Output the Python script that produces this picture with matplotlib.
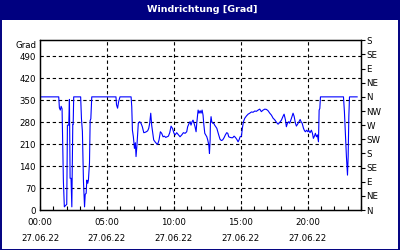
import matplotlib
matplotlib.use("Agg")
import matplotlib.pyplot as plt
from matplotlib.patches import Rectangle
from matplotlib.ticker import MultipleLocator

plt.rcParams['font.family'] = ['DejaVu Sans']

title = "Windrichtung [Grad]"
y_unit = "Grad"
hours = [0.0, 1.40, 1.45, 1.52, 1.58, 1.65, 1.68, 1.75, 1.82, 1.90, 2.00, 2.05, 2.15, 2.20,
         2.25, 2.32, 2.38, 2.45, 2.48, 2.52, 3.04, 3.10, 3.17, 3.25, 3.33, 3.38, 3.45, 3.50,
         3.57, 3.62, 3.70, 3.75, 3.80, 3.87, 5.68, 5.72, 5.80, 5.88, 5.98, 6.81,
         6.86, 6.91, 6.98, 7.06, 7.13, 7.18, 7.25, 7.30, 7.35, 7.45, 7.55, 7.65, 7.76, 7.85,
         7.95, 8.05, 8.13, 8.20, 8.28, 8.35, 8.43, 8.50, 8.60, 8.70, 8.80, 8.90, 9.00, 9.10,
         9.20, 9.30, 9.40, 9.50, 9.60, 9.70, 9.80, 9.90, 10.02, 10.10, 10.22, 10.35, 10.47,
         10.60, 10.72, 10.85, 10.97, 11.04, 11.15, 11.22, 11.29, 11.37, 11.44, 11.52, 11.59,
         11.67, 11.72, 11.77, 11.82, 11.89, 11.97, 12.04, 12.12, 12.19, 12.24, 12.32, 12.39,
         12.47, 12.54, 12.62, 12.67, 12.72, 12.74, 12.79, 12.84, 12.92, 12.99, 13.06, 13.14,
         13.22, 13.29, 13.36, 13.46, 13.56, 13.66, 13.76, 13.86, 13.96, 14.04, 14.11, 14.21,
         14.31, 14.41, 14.51, 14.61, 14.71, 14.81, 14.88, 14.96, 15.06, 15.13, 15.21, 15.31,
         15.43, 15.56, 15.68, 15.81, 15.93, 16.06, 16.18, 16.31, 16.43, 16.55, 16.68, 16.81,
         16.93, 17.05, 17.18, 17.30, 17.43, 17.55, 17.68, 17.80, 17.93, 18.05, 18.18, 18.25,
         18.35, 18.42, 18.50, 18.60, 18.67, 18.80, 18.92, 19.00, 19.10, 19.17, 19.30, 19.45,
         19.52, 19.60, 19.70, 19.77, 19.84, 19.94, 20.02, 20.09, 20.19, 20.29, 20.37, 20.44,
         20.52, 20.59, 20.67, 20.74, 20.82, 20.87, 20.92, 20.97, 22.69, 22.76, 22.84, 22.91,
         22.99, 23.04, 23.09, 23.14, 23.71]
direction = [360, 360, 325, 318, 330, 322, 249, 90, 10, 14, 18, 270, 270, 352,
             101, 101, 10, 272, 272, 360, 360, 290, 250, 90, 10, 50, 53, 95,
             85, 95, 150, 285, 290, 360, 360, 335, 324, 345, 360, 360,
             329, 254, 233, 196, 214, 170, 207, 239, 276, 281, 276, 265, 246, 247,
             249, 252, 260, 276, 308, 270, 244, 223, 217, 212, 209, 223, 249, 244,
             233, 235, 231, 233, 235, 246, 267, 260, 244, 239, 246, 239, 233,
             239, 246, 244, 249, 265, 276, 281, 270, 281, 286, 276, 265,
             249, 276, 297, 318, 308, 316, 308, 318, 302, 276, 244, 239,
             233, 223, 207, 180, 223, 276, 297, 281, 276, 276, 270, 265,
             260, 249, 239, 225, 221, 223, 230, 239, 246, 244, 233, 231,
             230, 230, 235, 231, 225, 217, 223, 233, 235, 260, 281, 292,
             299, 305, 308, 312, 311, 315, 314, 318, 321, 313, 318, 321,
             320, 316, 308, 302, 292, 287, 279, 273, 279, 286, 299, 305,
             287, 265, 276, 281, 276, 292, 308, 298, 276, 267, 276, 288,
             281, 276, 260, 253, 249, 254, 249, 253, 246, 254, 244, 228,
             235, 244, 233, 239, 217, 318, 323, 360, 360, 313, 233, 170,
             111, 170, 297, 360, 360]

left_ticks = [0, 70, 140, 210, 280, 350, 420, 490]
right_ticks = [0, 45, 90, 135, 180, 225, 270, 315, 360, 405, 450, 495, 540]
right_labels = ["N", "NE", "E", "SE", "S", "SW", "W", "NW", "N", "NE", "E", "SE", "S"]
x_major = [0, 5, 10, 15, 20]
x_labels = ["00:00\n27.06.22", "05:00\n27.06.22", "10:00\n27.06.22",
            "15:00\n27.06.22", "20:00\n27.06.22"]

navy = "#000080"
fs = 6.2

fig = plt.figure(figsize=(4, 2.5), dpi=100)
fig.patch.set_facecolor("white")

# title bar
fig.patches.append(Rectangle((0, 1 - 20 / 250), 1, 20 / 250, transform=fig.transFigure,
                             facecolor=navy, edgecolor="none", zorder=0))
fig.patches.append(Rectangle((0.5 / 400, 0.5 / 250), 1 - 1.5 / 400, 1 - 1.5 / 250,
                             transform=fig.transFigure, facecolor="none",
                             edgecolor=navy, linewidth=1.4, zorder=1))
fig.text(0.505, 1 - 9.5 / 250, title, color="white", fontsize=6.8, fontweight="bold",
         ha="center", va="center")

ax = fig.add_axes([40 / 400, 1 - 210 / 250, 321 / 400, (210 - 40.3) / 250])
ax.plot(hours, direction, color="#0000ff", linewidth=0.8, zorder=3)
ax.set_xlim(0, 24)
ax.set_ylim(0, 540)

ax.set_yticks(left_ticks)
ax.set_yticklabels([str(v) for v in left_ticks], fontsize=fs)
ax.tick_params(axis="y", length=0, pad=3)
ax.set_xticks(x_major)
ax.set_xticklabels(x_labels, fontsize=fs, linespacing=2.0)
ax.xaxis.set_minor_locator(MultipleLocator(1))
ax.tick_params(axis="x", which="both", direction="in", length=3, width=0.8, pad=6)

for v in left_ticks[1:]:
    ax.axhline(v, color="black", linestyle=(0, (3, 2.5)), linewidth=0.8, zorder=1)
for v in x_major[1:]:
    ax.axvline(v, color="black", linestyle=(0, (3, 2.5)), linewidth=0.8, zorder=1)

for sp in ax.spines.values():
    sp.set_linewidth(0.9)
    sp.set_color("black")

ax.text(-0.012, 1 - 5 / 170, y_unit, transform=ax.transAxes, ha="right", va="center",
        fontsize=fs)

ax2 = ax.twinx()
ax2.set_ylim(0, 540)
ax2.set_yticks(right_ticks)
ax2.set_yticklabels(right_labels, fontsize=fs)
ax2.tick_params(axis="y", length=3, width=0.8, pad=1)
for sp in ax2.spines.values():
    sp.set_linewidth(0.9)

fig.savefig("out.png", dpi=100)
